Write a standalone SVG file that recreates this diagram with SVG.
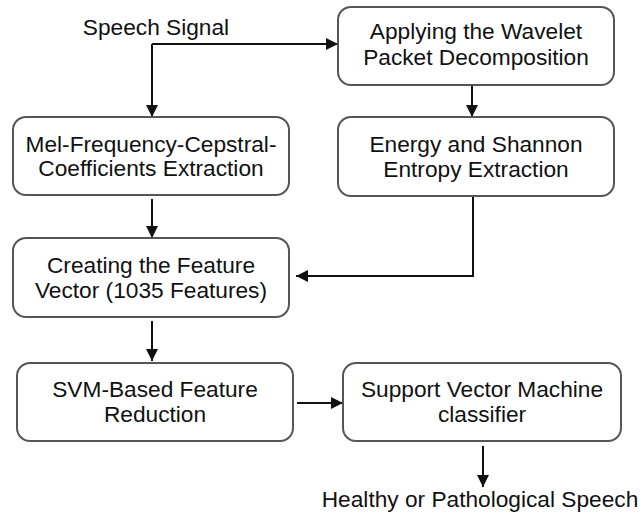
<svg xmlns="http://www.w3.org/2000/svg" width="643" height="516" viewBox="0 0 643 516">
<style>
.box{fill:#fff;stroke:#555;stroke-width:2}
.t{font-family:"Liberation Sans",Arial,sans-serif;font-size:22.7px;fill:#111;text-anchor:middle}
.c{fill:none;stroke:#111;stroke-width:2}
</style>
<defs>
<marker id="ah" markerUnits="userSpaceOnUse" markerWidth="12" markerHeight="12" refX="12" refY="6" orient="auto">
<path d="M0,0 L12,6 L0,12 z" fill="#111"/>
</marker>
</defs>
<rect width="643" height="516" fill="#fff"/>
<g id="connectors">
<path class="c" d="M152,44 V117" marker-end="url(#ah)"/>
<path class="c" d="M152,44 H338" marker-end="url(#ah)"/>
<path class="c" d="M472,85 V117" marker-end="url(#ah)"/>
<path class="c" d="M152,199 V238" marker-end="url(#ah)"/>
<path class="c" d="M473,196 V276 H296" marker-end="url(#ah)"/>
<path class="c" d="M152,321 V361" marker-end="url(#ah)"/>
<path class="c" d="M297,403 H343" marker-end="url(#ah)"/>
<path class="c" d="M483,446 V487" marker-end="url(#ah)"/>
</g>
<g id="speech-signal">
<text class="t" x="156" y="35">Speech Signal</text>
</g>
<g id="wpd">
<rect class="box" x="338" y="7" width="276" height="78" rx="13"/>
<text class="t" x="476" y="39">Applying the Wavelet</text>
<text class="t" x="476" y="65">Packet Decomposition</text>
</g>
<g id="mfcc">
<rect class="box" x="13" y="117" width="276" height="78" rx="13"/>
<text class="t" x="151" y="152">Mel-Frequency-Cepstral-</text>
<text class="t" x="151" y="176">Coefficients Extraction</text>
</g>
<g id="energy">
<rect class="box" x="338" y="117" width="276" height="79" rx="13"/>
<text class="t" x="476" y="152">Energy and Shannon</text>
<text class="t" x="476" y="177">Entropy Extraction</text>
</g>
<g id="feature-vector">
<rect class="box" x="13" y="238" width="276" height="79" rx="13"/>
<text class="t" x="151" y="273">Creating the Feature</text>
<text class="t" x="151" y="298">Vector (1035 Features)</text>
</g>
<g id="svm-reduction">
<rect class="box" x="17" y="363" width="276" height="78" rx="13"/>
<text class="t" x="155" y="397">SVM-Based Feature</text>
<text class="t" x="155" y="422">Reduction</text>
</g>
<g id="svm-classifier">
<rect class="box" x="343" y="363" width="278" height="78" rx="13"/>
<text class="t" x="482" y="397">Support Vector Machine</text>
<text class="t" x="482" y="422">classifier</text>
</g>
<g id="output">
<text class="t" x="480" y="507">Healthy or Pathological Speech</text>
</g>
</svg>
